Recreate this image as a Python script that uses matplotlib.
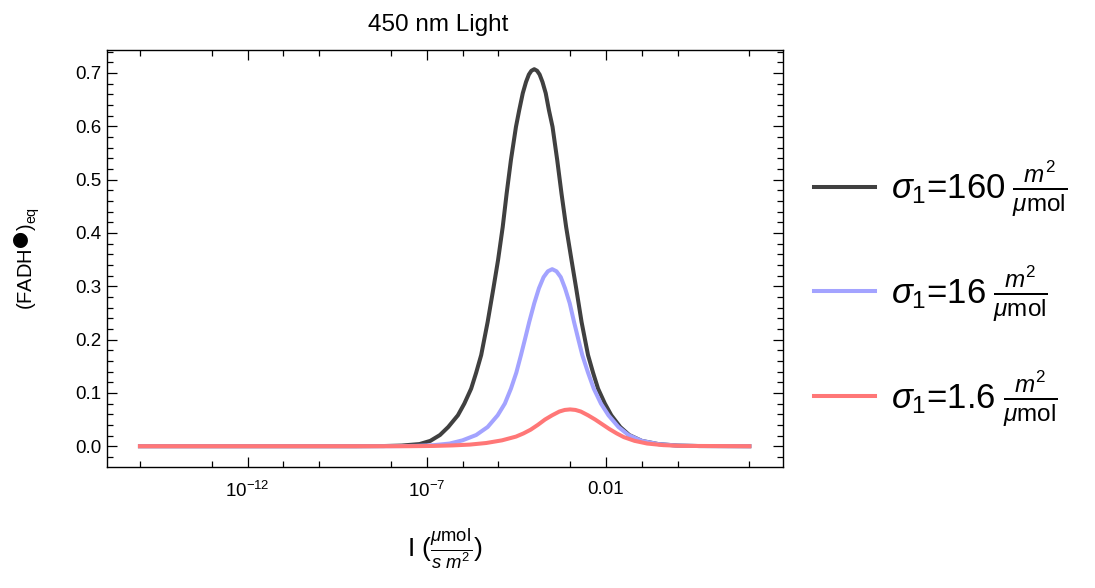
import numpy as np
import matplotlib
matplotlib.use("Agg")
import matplotlib.pyplot as plt
from matplotlib.ticker import FixedLocator, FixedFormatter, MultipleLocator, NullFormatter

plt.rcParams['font.family'] = ['Liberation Sans', 'DejaVu Sans']
plt.rcParams['mathtext.fontset'] = 'custom'
plt.rcParams['mathtext.rm'] = 'Liberation Sans'
plt.rcParams['mathtext.it'] = 'Liberation Sans:italic'
plt.rcParams['mathtext.bf'] = 'Liberation Sans:bold'

# log10 of light intensity and (FADH*)eq
black_exp = [-15, -9.0, -8.2, -7.7, -7.2, -6.9, -6.63, -6.4, -6.13, -5.95, -5.76, -5.62,
             -5.48, -5.30, -5.14, -5.01, -4.88, -4.77, -4.65, -4.51, -4.42, -4.32, -4.23,
             -4.15, -4.08, -4.0, -3.92, -3.85, -3.77, -3.68, -3.59, -3.49, -3.36, -3.24,
             -3.11, -2.97, -2.83, -2.68, -2.50, -2.36, -2.22, -2.03, -1.85, -1.6, -1.35,
             -1.0, -0.54, 0.0, 0.6, 2.0]
black_val = [0, 0, 0.0003, 0.0012, 0.004, 0.010, 0.021, 0.036, 0.058, 0.080, 0.108, 0.138,
             0.171, 0.233, 0.296, 0.349, 0.411, 0.474, 0.537, 0.599, 0.630, 0.662, 0.683,
             0.697, 0.704, 0.707, 0.704, 0.697, 0.683, 0.662, 0.630, 0.599, 0.537, 0.474,
             0.411, 0.353, 0.296, 0.233, 0.171, 0.138, 0.108, 0.080, 0.058, 0.036, 0.021,
             0.010, 0.004, 0.0012, 0.0003, 0]

blue_exp = [-15, -8.0, -7.3, -6.8, -6.36, -6.0, -5.62, -5.3, -5.02, -4.82, -4.65, -4.50,
            -4.37, -4.25, -4.14, -4.0, -3.87, -3.74, -3.62, -3.50, -3.38, -3.26, -3.14,
            -3.01, -2.89, -2.78, -2.66, -2.50, -2.34, -2.14, -1.93, -1.65, -1.37, -1.0,
            -0.54, 0.0, 0.6, 2.0]
blue_val = [0, 0, 0.0006, 0.002, 0.005, 0.011, 0.021, 0.036, 0.058, 0.080, 0.108, 0.138,
            0.171, 0.203, 0.233, 0.268, 0.296, 0.317, 0.328, 0.332, 0.328, 0.317, 0.296,
            0.268, 0.233, 0.203, 0.171, 0.138, 0.108, 0.080, 0.058, 0.036, 0.021, 0.010,
            0.004, 0.0012, 0.0003, 0]

red_exp = [-15, -7.5, -6.8, -6.27, -5.8, -5.34, -4.9, -4.51, -4.3, -4.1, -3.9, -3.7, -3.5,
           -3.3, -3.15, -3.0, -2.85, -2.7, -2.5, -2.3, -2.1, -1.9, -1.7, -1.5, -1.2, -0.85,
           -0.4, 0.1, 2.0]
red_val = [0, 0, 0.0005, 0.0015, 0.003, 0.006, 0.011, 0.018, 0.024, 0.031, 0.040, 0.050,
           0.058, 0.065, 0.068, 0.069, 0.068, 0.065, 0.058, 0.050, 0.041, 0.032, 0.024,
           0.017, 0.010, 0.005, 0.002, 0.0006, 0]

labels = [r'$\sigma_1$=160$\;\frac{m^2}{\mu\mathrm{mol}}$',
          r'$\sigma_1$=16$\;\frac{m^2}{\mu\mathrm{mol}}$',
          r'$\sigma_1$=1.6$\;\frac{m^2}{\mu\mathrm{mol}}$']
colors = ['#404040', '#a3a3ff', '#ff7777']

major_exp = [-12, -7, -2]
major_lbl = [r'$10^{-12}$', r'$10^{-7}$', '0.01']
minor_exp = [-15, -13, -11, -10, -8, -6, -5, -3, -1, 0, 2]

fig = plt.figure(figsize=(10.95, 5.88), dpi=100)
ax = fig.add_axes([107 / 1095, 1 - 467 / 588, 676 / 1095, 417 / 588])

series = [(black_exp, black_val), (blue_exp, blue_val), (red_exp, red_val)]
for (ex, val), c, lab in zip(series, colors, labels):
    ax.plot(10.0 ** np.array(ex), val, color=c, lw=2.9, label=lab,
            solid_joinstyle='round')

ax.set_xscale('log')
ax.set_xlim(10 ** -15.92, 10 ** 2.94)
ax.set_ylim(-0.039, 0.743)

ax.xaxis.set_major_locator(FixedLocator([10.0 ** e for e in major_exp]))
ax.xaxis.set_major_formatter(FixedFormatter(major_lbl))
ax.xaxis.set_minor_locator(FixedLocator([10.0 ** e for e in minor_exp]))
ax.xaxis.set_minor_formatter(NullFormatter())
ax.yaxis.set_major_locator(MultipleLocator(0.1))
ax.yaxis.set_minor_locator(MultipleLocator(0.02))
ax.yaxis.set_major_formatter(plt.FuncFormatter(lambda v, p: f'{v:.1f}'))

ax.tick_params(which='both', direction='in', top=True, right=True, labelsize=13.5, width=0.9)
ax.tick_params(which='major', length=7)
ax.tick_params(which='minor', length=4)
ax.tick_params(axis='x', pad=10)
ax.tick_params(axis='y', pad=4)
for s in ax.spines.values():
    s.set_linewidth(1.0)

ax.set_title('450 nm Light', fontsize=17.5, pad=14, x=0.49)
ax.set_xlabel(r'I ($\frac{\mu\mathrm{mol}}{s\ m^2}$)', fontsize=19, labelpad=18)
ax.set_ylabel(r'(FADH$^{⬤}$)$_{\mathrm{eq}}$', fontsize=14.5, labelpad=24)

ax.legend(loc='center left', bbox_to_anchor=(1.0, 0.415), frameon=False, fontsize=25,
          handlelength=1.75, handletextpad=0.45, labelspacing=1.3)

fig.savefig('out.png', dpi=100)
